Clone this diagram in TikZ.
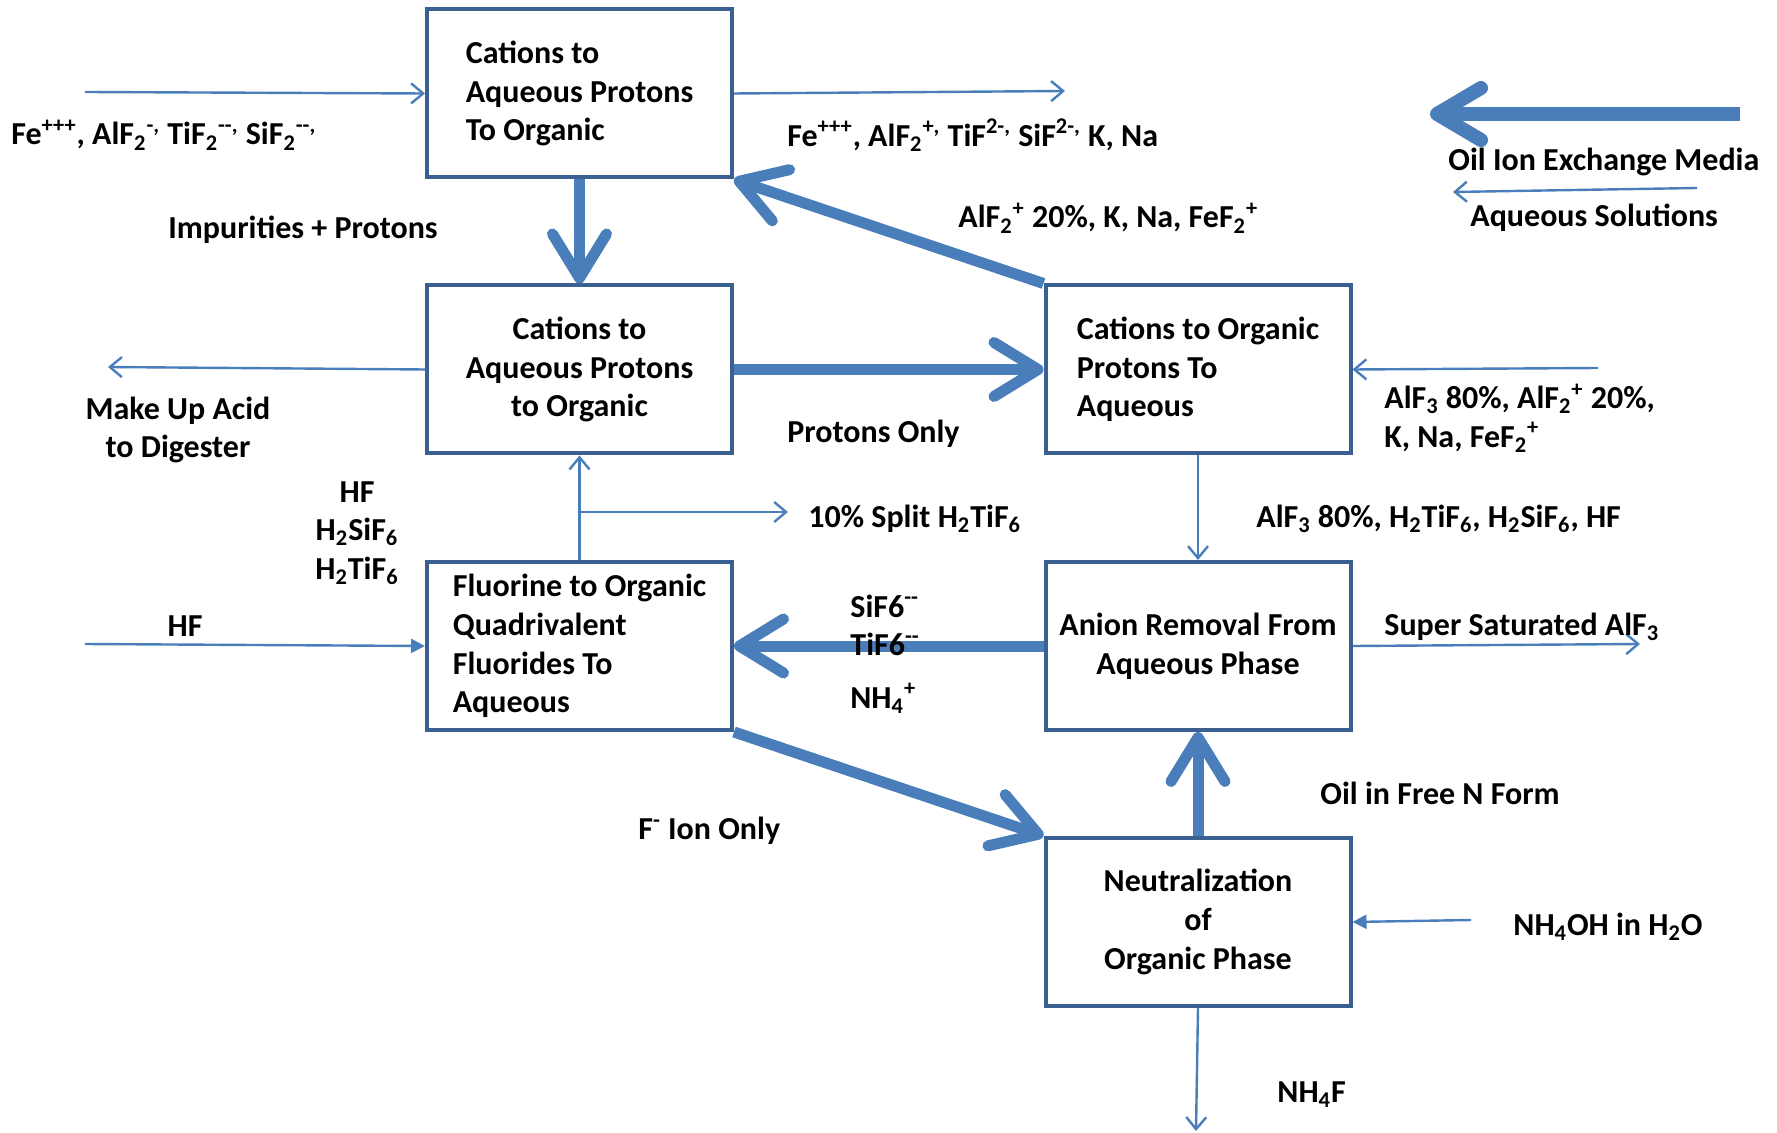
\documentclass[tikz,border=0pt]{standalone}
\usepackage{fontspec}
\setmainfont{Carlito}
\usetikzlibrary{arrows.meta}
\definecolor{boxblue}{RGB}{58,95,145}
\definecolor{flowblue}{RGB}{74,126,187}
\begin{document}
\begin{tikzpicture}[x=0.5pt, y=-0.5pt, font=\bfseries\fontsize{16}{19.3}\selectfont]
		\tikzset{stage/.style = {draw=boxblue, line width=2pt, minimum width=152.5pt, minimum height=84pt, align=center},
			flow/.style = {draw=flowblue, line width=5.5pt, -{Straight Barb[length=22pt,width=27pt,round]}},
			media/.style = {draw=flowblue, line width=7pt, -{Straight Barb[length=22pt,width=26pt,round]}},
			stream/.style = {draw=flowblue, line width=1.2pt, -{Straight Barb[length=6pt,width=10pt]}},
			feed/.style = {draw=flowblue, line width=1.2pt, -{Triangle[length=7pt,width=7pt]}},
			lbl/.style = {inner sep=0pt, anchor=west}}
		\useasboundingbox (0,0) rectangle (1777,1133);
		% Draw process stages
		\node[stage, align=left] (top) at (579.5,93.5) {Cations to\\Aqueous Protons\\To Organic};
		\node[stage] (mid) at (579.5,369.5) {Cations to\\Aqueous Protons\\to Organic};
		\node[stage, align=left] (back) at (1198,369.5) {Cations to Organic\\Protons To\\Aqueous};
		\node[stage, align=left] (fluor) at (579.5,646) {Fluorine to Organic\\Quadrivalent\\Fluorides To\\Aqueous};
		\node[stage] (anion) at (1198,646) {Anion Removal From\\Aqueous Phase};
		\node[stage] (neutr) at (1198,922) {Neutralization\\of\\Organic Phase};
		% Free ends of the streams
		\coordinate (feIn) at (85,92);
		\coordinate (feOut) at (1065,91);
		\coordinate (acidOut) at (108,367);
		\coordinate (backIn) at (1598,368);
		\coordinate (split) at (579.5,512);
		\coordinate (splitOut) at (788,512);
		\coordinate (hfIn) at (85,644);
		\coordinate (superOut) at (1640,644);
		\coordinate (nhIn) at (1471,920);
		\coordinate (nhOut) at (1196,1131);
		\coordinate (oilA) at (1740,114);
		\coordinate (oilB) at (1430,114);
		\coordinate (aqA) at (1697,188);
		\coordinate (aqB) at (1453,192);
		% Organic phase
		\draw[flow] (top) -- (mid);
		\draw[flow] (mid) -- (back);
		\draw[flow] (back.north west) -- (top.south east);
		\draw[flow] (anion) -- (fluor);
		\draw[flow] (fluor.south east) -- (neutr.north west);
		\draw[flow] (neutr) -- (anion);
		\draw[media] (oilA) -- (oilB);
		% Aqueous streams
		\draw[stream] (feIn) -- (top.west);
		\draw[stream] (top.east) -- (feOut);
		\draw[stream] (mid.west) -- (acidOut);
		\draw[stream] (backIn) -- (back.east);
		\draw[stream] (fluor) -- (mid);
		\draw[stream] (split) -- (splitOut);
		\draw[stream] (back) -- (anion);
		\draw[feed] (hfIn) -- (fluor.west);
		\draw[stream] (anion.east) -- (superOut);
		\draw[feed] (nhIn) -- (neutr.east);
		\draw[stream] (neutr.south) -- (nhOut);
		\draw[stream] (aqA) -- (aqB);
		% Labels
		\node[lbl] (feInLbl) at (11,135) {Fe\textsuperscript{+++}, AlF\textsubscript{2}\textsuperscript{-,} TiF\textsubscript{2}\textsuperscript{-{}-,} SiF\textsubscript{2}\textsuperscript{-{}-,}};
		\node[lbl] (feOutLbl) at (787,135) {Fe\textsuperscript{+++}, AlF\textsubscript{2}\textsuperscript{+,} TiF\textsuperscript{2-,} SiF\textsuperscript{2-,} K, Na};
		\node[lbl] (impLbl) at (168,230) {Impurities + Protons};
		\node[lbl] (recLbl) at (958,218) {AlF\textsubscript{2}\textsuperscript{+} 20\%, K, Na, FeF\textsubscript{2}\textsuperscript{+}};
		\node[lbl] (oilLbl) at (1448,162) {Oil Ion Exchange Media};
		\node[lbl] (aqLbl) at (1470,218) {Aqueous Solutions};
		\node[lbl, anchor=center, align=center] (acidLbl) at (178,430) {Make Up Acid\\to Digester};
		\node[lbl] (protLbl) at (787,434) {Protons Only};
		\node[lbl, align=left] (backLbl) at (1384,418) {AlF\textsubscript{3} 80\%, AlF\textsubscript{2}\textsuperscript{+} 20\%,\\K, Na, FeF\textsubscript{2}\textsuperscript{+}};
		\node[lbl] (splitLbl) at (808,519) {10\% Split H\textsubscript{2}TiF\textsubscript{6}};
		\node[lbl, anchor=center, align=center] (acidsLbl) at (357,533) {HF\\H\textsubscript{2}SiF\textsubscript{6}\\H\textsubscript{2}TiF\textsubscript{6}};
		\node[lbl] (midLbl) at (1256,519) {AlF\textsubscript{3} 80\%, H\textsubscript{2}TiF\textsubscript{6}, H\textsubscript{2}SiF\textsubscript{6}, HF};
		\node[lbl, anchor=center] (hfLbl) at (185,626) {HF};
		\node[lbl, align=left] (anionLbl) at (850,654) {SiF6\textsuperscript{-{}-}\\TiF6\textsuperscript{-{}-}\\[7pt]NH\textsubscript{4}\textsuperscript{+}};
		\node[lbl] (superLbl) at (1384,627) {Super Saturated AlF\textsubscript{3}};
		\node[lbl] (fLbl) at (638,831) {F\textsuperscript{-} Ion Only};
		\node[lbl] (freeLbl) at (1320,793) {Oil in Free N Form};
		\node[lbl] (nhInLbl) at (1513,927) {NH\textsubscript{4}OH in H\textsubscript{2}O};
		\node[lbl] (nhOutLbl) at (1277,1095) {NH\textsubscript{4}F};
	\end{tikzpicture}
\end{document}
